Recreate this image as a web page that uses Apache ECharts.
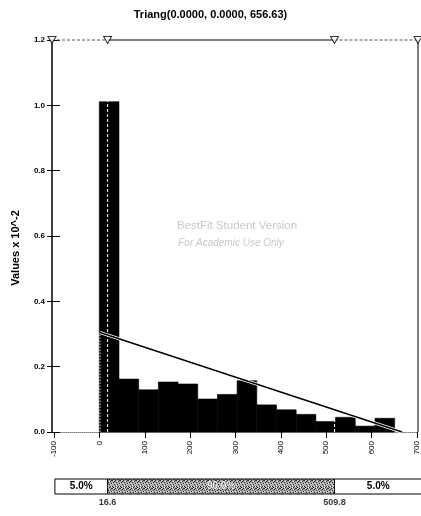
<!DOCTYPE html>
<html>
<head>
<meta charset="utf-8">
<script src="https://cdn.jsdelivr.net/npm/echarts@6/dist/echarts.min.js"></script>
<style>
  html, body { margin: 0; padding: 0; background: #fff; }
  #chart { width: 421px; height: 516px; }
</style>
</head>
<body>
<div id="chart"></div>
<script>
// Histogram of sampled values with a fitted triangular distribution
const chartTitle = 'Triang(0.0000, 0.0000, 656.63)';
const yAxisTitle = 'Values x 10^-2';
const binEdges = [-1.5, 41.3, 84.1, 126.9, 169.7, 212.5, 255.3, 298.1, 340.9, 383.7, 426.5, 469.3, 512.1, 554.9, 597.7, 640.5];
const binHeights = [1.011, 0.162, 0.129, 0.153, 0.147, 0.101, 0.115, 0.157, 0.083, 0.068, 0.054, 0.032, 0.045, 0.018, 0.042];
const fitPoints = [[0, 0], [0, 0.3046], [656.63, 0]];
const pctMarks = [16.6, 509.8];
const pctLabels = ['5.0%', '90.0%', '5.0%'];
const xTicks = [-100, 0, 100, 200, 300, 400, 500, 600, 700];
const yTicks = [0, 0.2, 0.4, 0.6, 0.8, 1.0, 1.2];
const xRange = [-104.3, 691.3];
const bandRange = [-98, 700];
const watermark = ['BestFit Student Version', 'For Academic Use Only'];

const FONT = "'Liberation Sans', Arial, sans-serif";
const yTop = yTicks[yTicks.length - 1];

// stippled fill for the central percentile band
function stipple() {
  const c = document.createElement('canvas');
  c.width = 8; c.height = 8;
  const g = c.getContext('2d');
  g.fillStyle = '#a8a8a8';
  g.fillRect(0, 0, 8, 8);
  const dark = [[0,0],[3,0],[6,1],[1,2],[4,2],[7,3],[2,4],[5,4],[0,6],[3,6],[6,6],[1,7],[5,7],[7,0],[2,1]];
  const light = [[1,0],[5,1],[3,3],[6,4],[0,3],[4,5],[2,6],[7,6],[4,7]];
  g.fillStyle = '#2a2a2a';
  dark.forEach(([x, y]) => g.fillRect(x, y, 1, 1));
  g.fillStyle = '#e8e8e8';
  light.forEach(([x, y]) => g.fillRect(x, y, 1, 1));
  return c;
}

const chart = echarts.init(document.getElementById('chart'), null, { renderer: 'canvas' });

const bandData = [
  [bandRange[0], pctMarks[0], 0],
  [pctMarks[0], pctMarks[1], 1],
  [pctMarks[1], bandRange[1], 2]
];
const stipplePattern = { image: stipple(), repeat: 'repeat' };

const option = {
  backgroundColor: '#fff',
  animation: false,
  grid: [
    { left: 52, right: 3, top: 40, bottom: 84 },       // plot frame & data
    { left: 54, width: 368, top: 40, bottom: 84 },     // x tick labels
    { left: 52, right: 3, top: 479, height: 15 }       // percentile band
  ],
  xAxis: [
    {
      gridIndex: 0, type: 'value', min: xRange[0], max: xRange[1],
      axisLine: { show: true, onZero: false, lineStyle: { color: '#777', width: 1, type: 'dotted' } },
      axisTick: { show: false }, axisLabel: { show: false }, splitLine: { show: false }
    },
    {
      gridIndex: 1, type: 'value', min: xTicks[0], max: xTicks[xTicks.length - 1], interval: 100,
      axisLine: { show: false, onZero: false },
      axisTick: { show: true, length: 6, lineStyle: { color: '#000', width: 1 } },
      axisLabel: { show: true, rotate: 90, margin: 9, fontSize: 8, color: '#000', fontFamily: FONT },
      splitLine: { show: false }
    },
    {
      gridIndex: 2, type: 'value', min: xRange[0], max: xRange[1], show: false
    }
  ],
  yAxis: [
    {
      gridIndex: 0, type: 'value', min: yTicks[0], max: yTop, interval: 0.2,
      axisLine: { show: true, onZero: false, lineStyle: { color: '#000', width: 1.5 } },
      axisTick: { show: true, length: 5, lineStyle: { color: '#000', width: 1 } },
      axisLabel: { margin: 7, fontSize: 8, fontWeight: 'bold', color: '#000', fontFamily: FONT,
                   formatter: v => v.toFixed(1) },
      splitLine: { show: false }
    },
    {
      gridIndex: 0, type: 'value', min: yTicks[0], max: yTop, interval: 0.2, position: 'left',
      axisLine: { show: false, onZero: false },
      axisTick: { show: true, inside: true, length: 8, lineStyle: { color: '#000', width: 1 } },
      axisLabel: { show: false }, splitLine: { show: false }
    },
    { gridIndex: 1, type: 'value', min: 0, max: 1, show: false },
    { gridIndex: 2, type: 'value', min: 0, max: 1, show: false }
  ],
  graphic: [
    { type: 'text', left: 'center', top: 9, style: { text: chartTitle, x: 0, fontSize: 11, fontWeight: 'bold',
      fontFamily: "'Liberation Sans Narrow', 'Arial Narrow', " + FONT, fill: '#000' }, z: 10 },
    { type: 'text', x: 16, y: 248, rotation: Math.PI / 2,
      style: { text: yAxisTitle, fontSize: 11, fontWeight: 'bold', fontFamily: FONT, fill: '#000',
               align: 'center', verticalAlign: 'middle' }, z: 10 },
    { type: 'text', x: 237, y: 226,
      style: { text: watermark[0], fontSize: 11.5, fontFamily: FONT, fill: '#c8c8c8',
               align: 'center', verticalAlign: 'middle' }, z: 1 },
    { type: 'text', x: 231, y: 243,
      style: { text: watermark[1], fontSize: 10, fontStyle: 'italic', fontFamily: FONT, fill: '#c8c8c8',
               align: 'center', verticalAlign: 'middle' }, z: 1 }
  ],
  series: [
    {
      // histogram bars
      type: 'custom', xAxisIndex: 0, yAxisIndex: 0, z: 2,
      data: binHeights.map((h, i) => [binEdges[i], binEdges[i + 1], h]),
      encode: { x: [0, 1], y: 2 },
      renderItem: (params, api) => {
        const p0 = api.coord([api.value(0), api.value(2)]);
        const p1 = api.coord([api.value(1), 0]);
        return { type: 'rect', shape: { x: p0[0], y: p0[1], width: p1[0] - p0[0], height: p1[1] - p0[1] },
                 style: { fill: '#000', stroke: '#000', lineWidth: 0.6 } };
      }
    },
    // percentile marker lines through the plot
    ...pctMarks.map(v => ({
      type: 'line', xAxisIndex: 0, yAxisIndex: 0, z: 3, symbol: 'none', silent: true,
      data: [[v, 0], [v, yTop]],
      lineStyle: { color: '#fff', width: 1, type: [3, 2] }
    })),
    {
      // fitted density: vertical edge at the minimum
      type: 'line', xAxisIndex: 0, yAxisIndex: 0, z: 4, symbol: 'none', silent: true,
      data: fitPoints.slice(0, 2),
      lineStyle: { color: '#999', width: 1.5, type: 'dotted' }
    },
    {
      type: 'line', xAxisIndex: 0, yAxisIndex: 0, z: 4, symbol: 'none', silent: true,
      data: fitPoints.slice(1),
      lineStyle: { color: '#fff', width: 3 }
    },
    {
      type: 'line', xAxisIndex: 0, yAxisIndex: 0, z: 5, symbol: 'none', silent: true,
      data: fitPoints.slice(1),
      lineStyle: { color: '#000', width: 1.4 }
    },
    // top frame: solid between the percentiles, dashed outside
    {
      type: 'line', xAxisIndex: 0, yAxisIndex: 0, z: 6, symbol: 'none', silent: true, clip: false,
      data: [[pctMarks[0], yTop], [pctMarks[1], yTop]],
      lineStyle: { color: '#000', width: 1.2 }
    },
    {
      type: 'line', xAxisIndex: 0, yAxisIndex: 0, z: 6, symbol: 'none', silent: true, clip: false,
      data: [[xRange[0], yTop], [pctMarks[0], yTop]],
      lineStyle: { color: '#555', width: 1, type: [3, 2] }
    },
    {
      type: 'line', xAxisIndex: 0, yAxisIndex: 0, z: 6, symbol: 'none', silent: true, clip: false,
      data: [[pctMarks[1], yTop], [xRange[1], yTop]],
      lineStyle: { color: '#555', width: 1, type: [3, 2] }
    },
    {
      // right frame edge
      type: 'line', xAxisIndex: 0, yAxisIndex: 0, z: 6, symbol: 'none', silent: true, clip: false,
      data: [[xRange[1], 0], [xRange[1], yTop]],
      lineStyle: { color: '#000', width: 1 }
    },
    {
      // sliders on the top edge
      type: 'scatter', xAxisIndex: 0, yAxisIndex: 0, z: 7, silent: true, clip: false,
      symbol: 'triangle', symbolRotate: 180, symbolSize: [8, 7],
      data: [[xRange[0], yTop], [pctMarks[0], yTop], [pctMarks[1], yTop], [xRange[1], yTop]],
      itemStyle: { color: '#fff', borderColor: '#000', borderWidth: 1 }
    },
    {
      // percentile band
      type: 'custom', xAxisIndex: 2, yAxisIndex: 3, z: 2, clip: false,
      data: bandData,
      encode: { x: [0, 1], y: 2 },
      renderItem: (params, api) => {
        const idx = api.value(2);
        const p0 = api.coord([api.value(0), 1]);
        const p1 = api.coord([api.value(1), 0]);
        const w = p1[0] - p0[0], h = p1[1] - p0[1];
        const mid = idx === 1;
        return {
          type: 'group',
          children: [
            { type: 'rect', shape: { x: p0[0], y: p0[1], width: w, height: h },
              style: { fill: mid ? stipplePattern : '#fff', stroke: '#000', lineWidth: 1 } },
            { type: 'text', x: p0[0] + w / 2, y: p0[1] + h / 2,
              style: { text: pctLabels[idx], fontSize: 10, fontWeight: 'bold', fontFamily: FONT,
                       fill: mid ? '#f4f4f4' : '#000', stroke: mid ? '#444' : null, lineWidth: mid ? 0.6 : 0,
                       align: 'center', verticalAlign: 'middle' } }
          ]
        };
      }
    },
    {
      // percentile values under the band
      type: 'scatter', xAxisIndex: 2, yAxisIndex: 3, z: 3, silent: true, clip: false,
      symbolSize: 0,
      data: pctMarks.map(v => [v, 0]),
      label: { show: true, position: 'bottom', distance: 4, formatter: p => String(p.value[0]),
               fontSize: 9, fontWeight: 'bold', color: '#000', fontFamily: FONT }
    }
  ]
};

chart.setOption(option);
</script>
</body>
</html>
